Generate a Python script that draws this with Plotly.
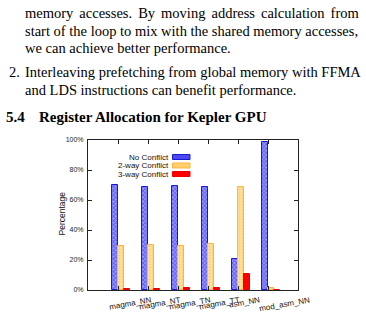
import plotly.graph_objects as go

# ---------------- data ----------------
categories = ["magma_NN", "magma_NT", "magma_TN", "magma_TT", "asm_NN", "mod_asm_NN"]
no_conflict = [70.2, 68.9, 69.3, 68.5, 20.7, 98.9]
two_way = [29.2, 30.3, 29.4, 30.5, 68.8, 1.1]
three_way = [0.9, 1.0, 1.2, 1.1, 10.6, 0.0]
series_names = ["No Conflict", "2-way Conflict", "3-way Conflict"]
y_ticks = [0, 20, 40, 60, 80, 100]
y_tick_labels = ["0%", "20%", "40%", "60%", "80%", "100%"]

S = "\u2006"  # small extra space used to imitate justified lines
body_lines = [
    ("memory accesses. By moving address calculation from").replace(" ", " " + S),
    "start of the loop to mix with the shared memory accesses,",
    "we can achieve better performance.",
    "Interleaving prefetching from global memory with FFMA",
    "and LDS instructions can benefit performance.",
]
heading_num = "5.4"
heading_text = "Register Allocation for Kepler GPU"

# ---------------- layout geometry (pixels) ----------------
W, H = 366, 312
L, R, T, B = 88, 298, 140, 290


def px(xp):
    return (xp - L) / (R - L)


def py(yp):
    return (B - yp) / (B - T)


xpos = list(range(len(categories)))

fig = go.Figure()
fig.add_trace(go.Bar(
    x=xpos, y=no_conflict, name=series_names[0], width=0.2, offset=-0.2,
    marker=dict(color="#ffffff", line=dict(color="#1818d8", width=1),
                pattern=dict(shape="x", fgcolor="#1c1ce8", bgcolor="#9a9aff",
                             size=3, solidity=0.5)),
    showlegend=False))
fig.add_trace(go.Bar(
    x=xpos, y=two_way, name=series_names[1], width=0.2, offset=0.0,
    marker=dict(color="#ffffff", line=dict(color="#ffb43c", width=1),
                pattern=dict(shape=".", fgcolor="#ffb845", bgcolor="#ffe6a6",
                             size=3, solidity=0.5)),
    showlegend=False))
fig.add_trace(go.Bar(
    x=xpos, y=three_way, name=series_names[2], width=0.2, offset=0.2,
    marker=dict(color="#ff0000", line=dict(color="#ee0000", width=1)),
    showlegend=False))

annotations = []
shapes = []

# x category labels (rotated, left anchored)
for i, c in enumerate(categories):
    annotations.append(dict(
        x=xpos[i], xref="x", xshift=-11, y=py(294.5), yref="paper",
        text=c, showarrow=False, textangle=-10, xanchor="left", yanchor="top",
        font=dict(family="Liberation Sans, Arial", size=8, color="#111"),
        borderpad=0))

# y axis title
annotations.append(dict(
    x=px(61.5), y=py(214), xref="paper", yref="paper", text="Percentage",
    textangle=-90, showarrow=False, xanchor="center", yanchor="middle",
    font=dict(family="Liberation Sans, Arial", size=8.5, color="#111")))

# legend (text left of key, gnuplot style)
leg_rows = [157, 165.5, 174]
leg_fill = ["#4a4aee", "#ffcf70", "#ff0000"]
leg_line = ["#1818d8", "#ffb43c", "#ee0000"]
for name, yr, fc, lc in zip(series_names, leg_rows, leg_fill, leg_line):
    annotations.append(dict(
        x=px(170), y=py(yr), xref="paper", yref="paper", text=name,
        showarrow=False, xanchor="right", yanchor="middle",
        font=dict(family="Liberation Sans, Arial", size=8, color="#111"),
        borderpad=0))
    shapes.append(dict(type="rect", xref="paper", yref="paper",
                       x0=px(172.5), x1=px(190), y0=py(yr - 2.5), y1=py(yr + 2.5),
                       fillcolor=fc, line=dict(color=lc, width=1)))

# paper text above the chart
serif = "Liberation Serif"
line_y = [13, 30.5, 48, 72, 89.5]
for txt, yy in zip(body_lines, line_y):
    annotations.append(dict(
        x=px(23.5), y=py(yy), xref="paper", yref="paper", text=txt,
        showarrow=False, xanchor="left", yanchor="middle",
        font=dict(family=serif, size=14.5, color="#000"), borderpad=0))
annotations.append(dict(
    x=px(7.5), y=py(72), xref="paper", yref="paper", text="2.",
    showarrow=False, xanchor="left", yanchor="middle",
    font=dict(family=serif, size=14.5, color="#000"), borderpad=0))
annotations.append(dict(
    x=px(4.5), y=py(117), xref="paper", yref="paper", text="<b>" + heading_num + "</b>",
    showarrow=False, xanchor="left", yanchor="middle",
    font=dict(family=serif, size=15, color="#000"), borderpad=0))
annotations.append(dict(
    x=px(37.5), y=py(117), xref="paper", yref="paper", text="<b>" + heading_text + "</b>",
    showarrow=False, xanchor="left", yanchor="middle",
    font=dict(family=serif, size=15, color="#000"), borderpad=0))

fig.update_layout(
    width=W, height=H, autosize=False,
    margin=dict(l=L, r=W - R, t=T, b=H - B, pad=0),
    paper_bgcolor="#ffffff", plot_bgcolor="#ffffff",
    barmode="overlay", bargap=0,
    showlegend=False,
    annotations=annotations, shapes=shapes,
    xaxis=dict(range=[-1, 6], tickvals=xpos, ticktext=["" for _ in xpos],
               ticks="inside", ticklen=4, tickcolor="#222", tickwidth=1,
               showline=True, linecolor="#222", linewidth=1, mirror="allticks",
               showgrid=False, zeroline=False, fixedrange=True),
    yaxis=dict(range=[0, 100], tickvals=y_ticks, ticktext=y_tick_labels,
               ticks="inside", ticklen=4, tickcolor="#222", tickwidth=1,
               showline=True, linecolor="#222", linewidth=1, mirror="allticks",
               showgrid=False, zeroline=False, fixedrange=True,
               tickfont=dict(family="Liberation Sans, Arial", size=7, color="#222"),
               ticklabelstandoff=2),
)

fig.write_html("out.html", include_plotlyjs=True, config={"displayModeBar": False})
